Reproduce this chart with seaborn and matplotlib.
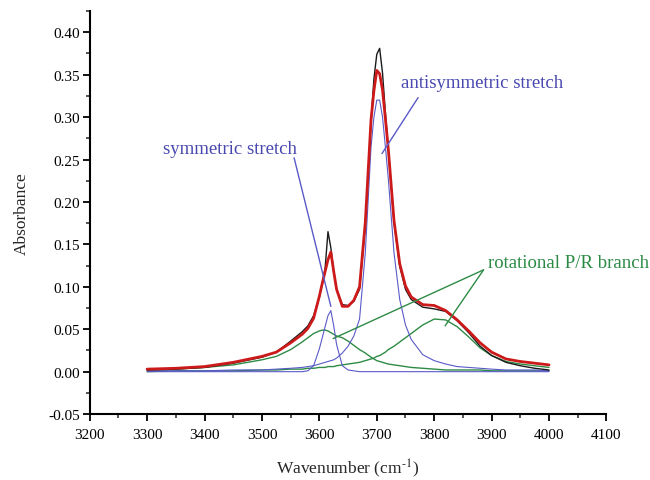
import numpy as np
import pandas as pd
import seaborn as sns
import matplotlib
matplotlib.use("Agg")
import matplotlib.pyplot as plt
from matplotlib.ticker import MultipleLocator, FormatStrFormatter

wavenumber = [3300, 3350, 3400, 3450, 3500, 3525, 3550, 3570, 3580, 3590,
              3600, 3605, 3610, 3615, 3620, 3625, 3630, 3640, 3650, 3660,
              3670, 3680, 3690, 3695, 3700, 3705, 3710, 3715, 3720, 3730,
              3740, 3750, 3760, 3780, 3800, 3820, 3840, 3860, 3880, 3900,
              3925, 3950, 3975, 4000]

experimental = [0.002, 0.003, 0.005, 0.010, 0.017, 0.023, 0.036, 0.047, 0.054, 0.066,
                0.088, 0.104, 0.122, 0.165, 0.146, 0.118, 0.097, 0.079, 0.078, 0.083,
                0.097, 0.172, 0.295, 0.345, 0.374, 0.381, 0.352, 0.305, 0.262, 0.176,
                0.124, 0.097, 0.085, 0.076, 0.074, 0.071, 0.060, 0.046, 0.030, 0.019,
                0.011, 0.007, 0.004, 0.002]

fit = [0.003, 0.004, 0.006, 0.011, 0.018, 0.023, 0.034, 0.044, 0.051, 0.063,
       0.089, 0.104, 0.118, 0.132, 0.141, 0.118, 0.097, 0.077, 0.077, 0.084,
       0.100, 0.176, 0.297, 0.331, 0.355, 0.351, 0.332, 0.298, 0.263, 0.178,
       0.127, 0.101, 0.088, 0.079, 0.078, 0.072, 0.061, 0.048, 0.034, 0.023,
       0.015, 0.012, 0.010, 0.008]

sym_stretch = [0.000, 0.000, 0.000, 0.000, 0.000, 0.000, 0.000, 0.000, 0.001, 0.007,
               0.027, 0.040, 0.053, 0.066, 0.072, 0.054, 0.032, 0.007, 0.002, 0.001,
               0.000, 0.000, 0.000, 0.000, 0.000, 0.000, 0.000, 0.000, 0.000, 0.000,
               0.000, 0.000, 0.000, 0.000, 0.000, 0.000, 0.000, 0.000, 0.000, 0.000,
               0.000, 0.000, 0.000, 0.000]

antisym_stretch = [0.001, 0.001, 0.001, 0.002, 0.002, 0.003, 0.004, 0.005, 0.006, 0.007,
                   0.009, 0.010, 0.011, 0.012, 0.013, 0.014, 0.016, 0.022, 0.030, 0.042,
                   0.062, 0.140, 0.265, 0.300, 0.320, 0.320, 0.300, 0.265, 0.228, 0.140,
                   0.085, 0.055, 0.038, 0.020, 0.013, 0.009, 0.006, 0.005, 0.004, 0.003,
                   0.002, 0.002, 0.002, 0.001]

rot_branch_low = [0.002, 0.003, 0.005, 0.008, 0.014, 0.018, 0.026, 0.035, 0.040, 0.045,
                  0.048, 0.049, 0.049, 0.048, 0.046, 0.044, 0.042, 0.040, 0.036, 0.031,
                  0.026, 0.022, 0.017, 0.015, 0.013, 0.012, 0.011, 0.010, 0.009, 0.008,
                  0.007, 0.006, 0.005, 0.004, 0.003, 0.002, 0.002, 0.002, 0.002, 0.001,
                  0.001, 0.001, 0.001, 0.001]

rot_branch_high = [0.000, 0.001, 0.001, 0.001, 0.002, 0.002, 0.003, 0.003, 0.004, 0.004,
                   0.005, 0.005, 0.005, 0.006, 0.006, 0.006, 0.007, 0.008, 0.009, 0.010,
                   0.011, 0.013, 0.015, 0.016, 0.018, 0.019, 0.021, 0.023, 0.026, 0.030,
                   0.035, 0.040, 0.045, 0.055, 0.062, 0.061, 0.053, 0.041, 0.028, 0.019,
                   0.012, 0.009, 0.007, 0.005]

sns.set_style("ticks")
plt.rcParams['font.family'] = ['Liberation Serif', 'DejaVu Serif']
plt.rcParams['mathtext.fontset'] = 'stix'
plt.rcParams['axes.unicode_minus'] = False

fig = plt.figure(figsize=(6.5, 4.81), dpi=100)
ax = fig.add_axes([0.138, 0.137, 0.795, 0.838])

green = '#2e8b45'
blue = '#5a5ac8'
black = '#1a1a1a'
red = '#cc1a1a'

for series in (rot_branch_low, rot_branch_high):
    sns.lineplot(x=wavenumber, y=series, color=green, lw=1.0, ax=ax)
for series in (sym_stretch, antisym_stretch):
    sns.lineplot(x=wavenumber, y=series, color=blue, lw=0.8, ax=ax)
sns.lineplot(x=wavenumber, y=experimental, color=black, lw=1.0, ax=ax)
sns.lineplot(x=wavenumber, y=fit, color=red, lw=2.0, ax=ax)

ax.set_xlim(3200, 4100)
ax.set_ylim(-0.05, 0.425)
ax.xaxis.set_major_locator(MultipleLocator(100))
ax.xaxis.set_minor_locator(MultipleLocator(50))
ax.yaxis.set_major_locator(MultipleLocator(0.05))
ax.yaxis.set_minor_locator(MultipleLocator(0.025))
ax.yaxis.set_major_formatter(FormatStrFormatter('%.2f'))
ax.set_yticks([-0.05, 0.0, 0.05, 0.10, 0.15, 0.20, 0.25, 0.30, 0.35, 0.40])

sns.despine(ax=ax)
for s in ('left', 'bottom'):
    ax.spines[s].set_linewidth(1.5)
    ax.spines[s].set_color('black')
ax.tick_params(which='major', direction='out', length=5, width=1.3, labelsize=11, colors='black', pad=2)
ax.tick_params(axis='x', which='major', pad=5)
ax.tick_params(which='minor', direction='out', length=3, width=1.1)

ax.set_xlabel(r'Wavenumber (cm$^{\text{-1}}$)', fontsize=12.5, labelpad=11)
ax.set_ylabel('Absorbance', fontsize=12.5, labelpad=13)

txt_blue = '#4848b0'
txt_green = '#2a8a44'
ax.text(3444, 0.263, 'symmetric stretch', color=txt_blue, fontsize=13.5, ha='center', va='center')
ax.plot([3556, 3620], [0.252, 0.077], color=blue, lw=1.0)
ax.text(3883, 0.341, 'antisymmetric stretch', color=txt_blue, fontsize=13.5, ha='center', va='center')
ax.plot([3772, 3709], [0.323, 0.257], color=blue, lw=1.0)
ax.text(3894, 0.1285, 'rotational P/R branch', color=txt_green, fontsize=13.5, ha='left', va='center')
ax.plot([3886, 3624], [0.120, 0.039], color=green, lw=1.0)
ax.plot([3886, 3819], [0.120, 0.054], color=green, lw=1.0)

fig.savefig('out.png', dpi=100)
